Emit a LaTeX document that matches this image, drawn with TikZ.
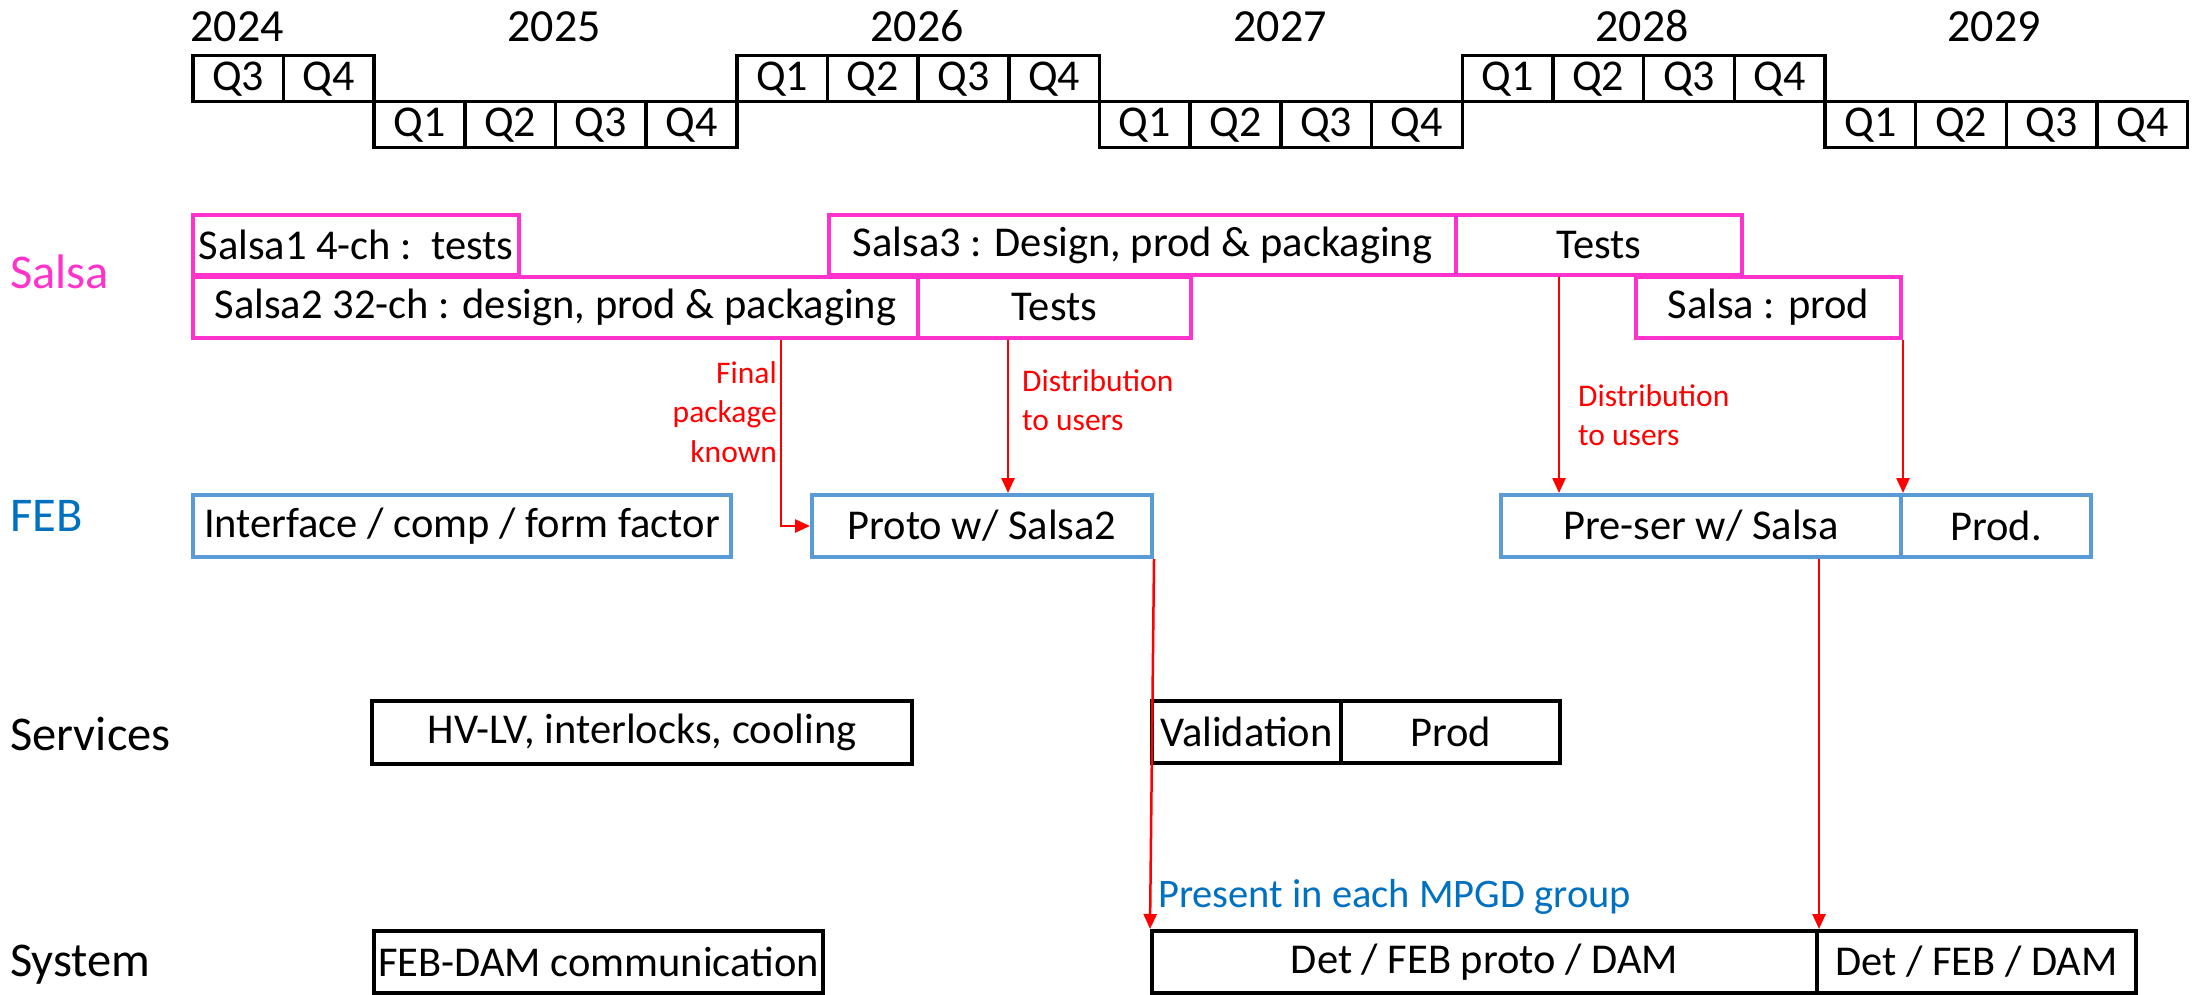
\documentclass[tikz,border=0pt]{standalone}
\usepackage{fontspec}
\setmainfont{Carlito}
\usetikzlibrary{arrows.meta}
\definecolor{salsapink}{HTML}{FF33CC}
\definecolor{febblue}{HTML}{5B9BD5}
\definecolor{lblblue}{HTML}{0070C0}
\definecolor{arrred}{HTML}{FF0000}
\begin{document}
\begin{tikzpicture}[x=1pt,y=-1pt,
  box/.style={draw, rectangle, inner sep=0pt, anchor=north west,
    font=\fontsize{42.5}{50}\selectfont, line width=4pt},
  pbox/.style={box, draw=salsapink},
  bbox/.style={box, draw=febblue},
  kbox/.style={box, draw=black},
  qbox/.style={draw, rectangle, line width=3.5pt, inner sep=0pt,
    minimum width=90.68pt, minimum height=46pt, anchor=north west,
    font=\fontsize{44}{50}\selectfont},
  yearlbl/.style={anchor=base, inner sep=0pt, font=\fontsize{46}{55}\selectfont},
  rowlbl/.style={anchor=base west, inner sep=0pt, font=\fontsize{48.5}{56}\selectfont},
  redlbl/.style={text=arrred, inner sep=0pt, font=\fontsize{31.5}{39.5}\selectfont},
  redarr/.style={draw=arrred, line width=2.5pt,
    -{Triangle[length=15pt,width=13pt]}}
]
\useasboundingbox (0,0) rectangle (2194,995);

% quarter grid: k = quarter index, r = row (0 top, 1 bottom)
\foreach \k/\q/\r in {0/3/0,1/4/0,
  2/1/1,3/2/1,4/3/1,5/4/1,
  6/1/0,7/2/0,8/3/0,9/4/0,
  10/1/1,11/2/1,12/3/1,13/4/1,
  14/1/0,15/2/0,16/3/0,17/4/0,
  18/1/1,19/2/1,20/3/1,21/4/1}
  \node[qbox] (q\k) at ({191+90.68*\k},{54+46*\r}) {Q\q};

\node[yearlbl] (y2024) at (237,42) {2024};
\node[yearlbl] (y2025) at (554,42) {2025};
\node[yearlbl] (y2026) at (917,42) {2026};
\node[yearlbl] (y2027) at (1280,42) {2027};
\node[yearlbl] (y2028) at (1642,42) {2028};
\node[yearlbl] (y2029) at (1994,42) {2029};

% row titles
\node[rowlbl, text=salsapink] (lsalsa) at (10,288) {Salsa};
\node[rowlbl, text=lblblue] (lfeb) at (10,531) {FEB};
\node[rowlbl] (lserv) at (10,750) {Services};
\node[rowlbl] (lsys) at (10,976) {System};

% Salsa
\node[pbox, minimum width=326pt, minimum height=60pt] (s1) at (191,213) {Salsa1 4-ch :\ \ tests};
\node[pbox, minimum width=627pt, minimum height=60pt] (s3) at (827,213) {Salsa3 : Design, prod \& packaging};
\node[pbox, minimum width=286pt, minimum height=60pt] (t2) at (1454,213) {Tests};
\node[pbox, minimum width=725pt, minimum height=61pt] (s2) at (191,275) {Salsa2 32-ch : design, prod \& packaging};
\node[pbox, minimum width=273pt, minimum height=61pt] (t1) at (916,275) {Tests};
\node[pbox, minimum width=265pt, minimum height=61pt] (sp) at (1634,275) {Salsa : prod};

% FEB
\node[bbox, minimum width=538pt, minimum height=62pt] (f1) at (191,493) {Interface / comp / form factor};
\node[bbox, minimum width=340pt, minimum height=62pt] (proto) at (810,493) {Proto w/ Salsa2};
\node[bbox, minimum width=400pt, minimum height=62pt] (preser) at (1499,493) {Pre-ser w/ Salsa};
\node[bbox, minimum width=190pt, minimum height=62pt] (fprod) at (1899,493) {Prod.};

% Services
\node[kbox, minimum width=540pt, minimum height=63pt] (hv) at (370,699) {HV-LV, interlocks, cooling};
\node[kbox, minimum width=189pt, minimum height=62pt] (val) at (1150,699) {Validation};
\node[kbox, minimum width=219pt, minimum height=62pt] (sprod) at (1339,699) {Prod};

% System
\node[kbox, minimum width=449pt, minimum height=62pt] (febdam) at (372,929) {FEB-DAM communication};
\node[kbox, minimum width=665pt, minimum height=62pt] (det1) at (1150,929) {Det / FEB proto / DAM};
\node[kbox, minimum width=319pt, minimum height=62pt] (det2) at (1815,929) {Det / FEB / DAM};

% dependencies
\coordinate (finx) at (781,0);
\coordinate (d1x) at (1008,0);
\coordinate (d2x) at (1559,0);
\draw[redarr] (s2.south -| finx) |- (proto.west);
\draw[redarr] (t1.south -| d1x) -- (proto.north -| d1x);
\draw[redarr] (t2.south -| d2x) -- (preser.north -| d2x);
\draw[redarr] (sp.south east) -- (preser.north east);
\draw[redarr] (proto.south east) -- (det1.north west);
\draw[redarr] (preser.south -| det1.north east) -- (det1.north east);

\node[redlbl, anchor=east, align=right] (lfin) at (777,412) {Final\\package\\known};
\node[redlbl, anchor=west, align=left] (ld1) at (1022,400) {Distribution\\to users};
\node[redlbl, anchor=west, align=left] (ld2) at (1578,415) {Distribution\\to users};
\node[anchor=base west, inner sep=0pt, text=lblblue, font=\fontsize{40.5}{48}\selectfont] (lmpgd) at (1158,907) {Present in each MPGD group};
\end{tikzpicture}
\end{document}
